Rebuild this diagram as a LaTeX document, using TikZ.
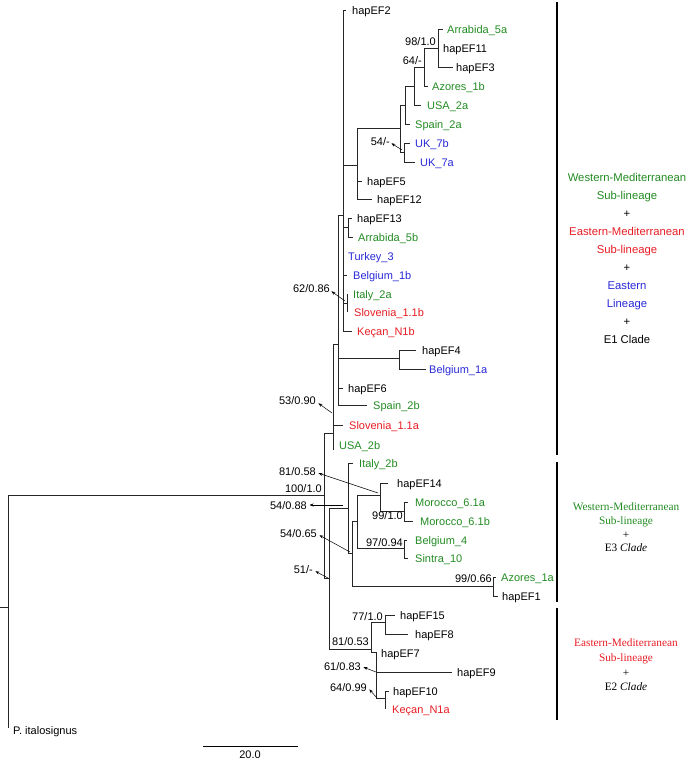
\documentclass[tikz,border=0pt]{standalone}
\usepackage{fontspec}
\setmainfont{Liberation Sans}
\newfontfamily\seriffam{Liberation Serif}
\usetikzlibrary{arrows.meta,calc}
\definecolor{tgreen}{RGB}{34,139,34}
\definecolor{tred}{RGB}{232,28,36}
\definecolor{tblue}{RGB}{40,40,215}
\newcommand\mytip[6]{\coordinate (#1) at (#2,#3); \node[lab,#6] (L#1) at (#4,#3) {#5};}
\begin{document}
\begin{tikzpicture}[x=1pt,y=-1pt,
  edge/.style={draw=black!85, line width=0.9pt},
  lab/.style={anchor=west, inner sep=0pt, font=\fontsize{11}{13}\selectfont, text height=8pt, text depth=0pt},
  bs/.style={anchor=east, inner sep=0pt, font=\fontsize{11}{13}\selectfont, text height=8pt, text depth=0pt},
  arr/.style={draw=black, line width=0.5pt, -{Stealth[length=4pt,width=3pt]}, shorten >=0.5pt},
  bar/.style={draw=black, line width=1.4pt},
  g/.style={text=tgreen}, r/.style={text=tred}, b/.style={text=tblue}, k/.style={text=black}]
\useasboundingbox (0,0) rectangle (689,761);

% tips
\mytip{hapEF2}{346}{10}{352}{hapEF2}{k}
\mytip{Arr5a}{443}{29}{447}{Arrabida\_5a}{g}
\mytip{hapEF11}{438}{48}{443}{hapEF11}{k}
\mytip{hapEF3}{453}{67}{456}{hapEF3}{k}
\mytip{Az1b}{428}{86}{432}{Azores\_1b}{g}
\mytip{USA2a}{421}{105}{427}{USA\_2a}{g}
\mytip{Spain2a}{410}{124}{415}{Spain\_2a}{g}
\mytip{UK7b}{410}{143}{415}{UK\_7b}{b}
\mytip{UK7a}{415}{162}{420}{UK\_7a}{b}
\mytip{hapEF5}{362}{181}{367}{hapEF5}{k}
\mytip{hapEF12}{372}{199}{377}{hapEF12}{k}
\mytip{hapEF13}{352}{218}{357}{hapEF13}{k}
\mytip{Arr5b}{353}{237}{358}{Arrabida\_5b}{g}
\mytip{Turkey3}{343}{256}{348}{Turkey\_3}{b}
\mytip{Belg1b}{347}{275}{353}{Belgium\_1b}{b}
\mytip{Italy2a}{347}{294}{353}{Italy\_2a}{g}
\mytip{Slov11b}{347}{312}{354}{Slovenia\_1.1b}{r}
\mytip{KecN1b}{352}{331}{357}{Keçan\_N1b}{r}
\mytip{hapEF4}{416}{350}{422}{hapEF4}{k}
\mytip{Belg1a}{426}{369}{429}{Belgium\_1a}{b}
\mytip{hapEF6}{343}{388}{348}{hapEF6}{k}
\mytip{Spain2b}{367}{405}{373}{Spain\_2b}{g}
\mytip{Slov11a}{343}{425}{349}{Slovenia\_1.1a}{r}
\coordinate (USA2b) at (333,450);
\node[lab,g] (LUSA2b) at (339,445) {USA\_2b};
\mytip{Italy2b}{353}{463}{359}{Italy\_2b}{g}
\mytip{hapEF14}{388}{483}{397}{hapEF14}{k}
\mytip{Mor61a}{408}{502}{415}{Morocco\_6.1a}{g}
\mytip{Mor61b}{413}{521}{420}{Morocco\_6.1b}{g}
\mytip{Belg4}{407}{540}{415}{Belgium\_4}{g}
\mytip{Sintra10}{408}{558}{415}{Sintra\_10}{g}
\mytip{Az1a}{496}{577}{501}{Azores\_1a}{g}
\mytip{hapEF1}{498}{596}{502}{hapEF1}{k}
\mytip{hapEF15}{395}{615}{400}{hapEF15}{k}
\mytip{hapEF8}{408}{634}{415}{hapEF8}{k}
\mytip{hapEF7}{376}{653}{381}{hapEF7}{k}
\mytip{hapEF9}{452}{672}{457}{hapEF9}{k}
\mytip{hapEF10}{389}{691}{393}{hapEF10}{k}
\mytip{KecN1a}{385}{709}{392}{Keçan\_N1a}{r}
\coordinate (Pital) at (8,728);
\node[lab] (LPital) at (13,730) {P. italosignus};

% internal nodes
\coordinate (n98) at (438,48);
\coordinate (n64) at (424,67);
\coordinate (na) at (414,86);
\coordinate (nb) at (405,105);
\coordinate (nuk) at (404,152);
\coordinate (nc) at (400,128);
\coordinate (nd) at (357,165);
\coordinate (n13) at (348,227);
\coordinate (nit) at (347,303);
\coordinate (nE) at (343,215);
\coordinate (n4) at (399,358);
\coordinate (nX) at (338,344);
\coordinate (nY) at (333,433);
\coordinate (nmor) at (404,511);
\coordinate (n14) at (380,495);
\coordinate (nbel) at (404,548);
\coordinate (nT) at (357,521);
\coordinate (naz) at (493,586);
\coordinate (nS) at (352,553);
\coordinate (nV) at (348,508);
\coordinate (n77) at (385,622);
\coordinate (n64b) at (385,698);
\coordinate (n61) at (376,652);
\coordinate (nR) at (371,649);
\coordinate (nW) at (329,578);
\coordinate (nZ) at (324,495);
\coordinate (root) at (8,607);
\coordinate (stub) at (0,607);

\foreach \p/\c in {n98/Arr5a,n98/hapEF11,n98/hapEF3,n64/n98,n64/Az1b,na/n64,na/USA2a,
  nb/na,nb/Spain2a,nuk/UK7b,nuk/UK7a,nc/nb,nc/nuk,nd/nc,nd/hapEF5,nd/hapEF12,
  n13/hapEF13,n13/Arr5b,nit/Italy2a,nit/Slov11b,
  nE/hapEF2,nE/nd,nE/n13,nE/Turkey3,nE/Belg1b,nE/nit,nE/KecN1b,
  n4/hapEF4,n4/Belg1a,nX/nE,nX/n4,nX/hapEF6,nX/Spain2b,
  nY/nX,nY/Slov11a,nY/USA2b,
  nmor/Mor61a,nmor/Mor61b,n14/hapEF14,n14/nmor,nbel/Belg4,nbel/Sintra10,
  nT/n14,nT/nbel,naz/Az1a,naz/hapEF1,nS/nT,nS/naz,nV/Italy2b,nV/nS,
  n77/hapEF15,n77/hapEF8,n64b/hapEF10,n64b/KecN1a,n61/hapEF7,n61/hapEF9,n61/n64b,
  nR/n77,nR/n61,nW/nV,nW/nR,nZ/nY,nZ/nW,root/nZ,root/Pital}
  \draw[edge] (\p) |- (\c);
\draw[edge] (stub) -- (root);

% support values
\node[bs] (b98) at (436,41) {98/1.0};
\node[bs] (b64) at (422,60) {64/-};
\node[bs] (b54a) at (390,141) {54/-};
\node[bs] (b62) at (330,288) {62/0.86};
\node[bs] (b53) at (316,400) {53/0.90};
\node[bs] (b81a) at (316,471) {81/0.58};
\node[bs] (b100) at (322,488) {100/1.0};
\node[bs] (b54b) at (307,505) {54/0.88};
\node[bs] (b54c) at (317,533) {54/0.65};
\node[bs] (b51) at (313,569) {51/-};
\node[bs] (b99a) at (403,515) {99/1.0};
\node[bs] (b97) at (403,542) {97/0.94};
\node[bs] (b99b) at (492,578) {99/0.66};
\node[bs] (b77) at (383,616) {77/1.0};
\node[bs] (b81b) at (369,641) {81/0.53};
\node[bs] (b61) at (361,666) {61/0.83};
\node[bs] (b64b) at (367,687) {64/0.99};

\coordinate (a54a) at (402,150);
\coordinate (a62) at (345,301);
\coordinate (a53) at (332,413);
\coordinate (a81a) at (378,493);
\coordinate (a54b) at (343,505);
\coordinate (a54c) at (350,552);
\coordinate (a51) at (328,578);
\coordinate (a61) at (376,672);
\coordinate (a64b) at (377,698);
\draw[arr] (a54a) -- ([xshift=1pt,yshift=-2pt]b54a.east);
\draw[arr] (a62) -- ([xshift=1pt,yshift=-3pt]b62.east);
\draw[arr] (a53) -- ([xshift=2pt,yshift=-3pt]b53.east);
\draw[arr] (a81a) -- ([xshift=2pt,yshift=-2pt]b81a.east);
\draw[arr] (a54b) -- ([xshift=2pt]b54b.east);
\draw[arr] (a54c) -- ([xshift=2pt,yshift=-2pt]b54c.east);
\draw[arr] (a51) -- ([xshift=2pt,yshift=-2pt]b51.east);
\draw[arr] (a61) -- ([xshift=2pt,yshift=-1pt]b61.east);
\draw[arr] (a64b) -- ([xshift=2pt,yshift=-2pt]b64b.east);

% clade bars
\coordinate (bar1t) at (557,2);   \coordinate (bar1b) at (557,455);
\coordinate (bar2t) at (557,462); \coordinate (bar2b) at (557,602);
\coordinate (bar3t) at (557,608); \coordinate (bar3b) at (557,720);
\draw[bar] (bar1t) -- (bar1b);
\draw[bar] (bar2t) -- (bar2b);
\draw[bar] (bar3t) -- (bar3b);

\node[align=center, inner sep=0pt, font=\fontsize{11.3}{18.1}\selectfont] (c1) at (627,258.5)
  {\textcolor{tgreen}{Western-Mediterranean}\\ \textcolor{tgreen}{Sub-lineage}\\ +\\
   \textcolor{tred}{Eastern-Mediterranean}\\ \textcolor{tred}{Sub-lineage}\\ +\\
   \textcolor{tblue}{Eastern}\\ \textcolor{tblue}{Lineage}\\ +\\ E1 Clade};
\node[align=center, inner sep=0pt, font=\seriffam\fontsize{11.3}{13.7}\selectfont] (c2) at (626,527.5)
  {\textcolor{tgreen}{Western-Mediterranean}\\ \textcolor{tgreen}{Sub-lineage}\\ +\\ E3 \textit{Clade}};
\node[align=center, inner sep=0pt, font=\seriffam\fontsize{11.3}{14.7}\selectfont] (c3) at (626,665)
  {\textcolor{tred}{Eastern-Mediterranean}\\ \textcolor{tred}{Sub-lineage}\\ +\\ E2 \textit{Clade}};

% scale bar
\coordinate (sb1) at (203,746);
\coordinate (sb2) at (298,746);
\draw[line width=0.9pt] (sb1) -- (sb2);
\node[inner sep=0pt, font=\fontsize{11}{13}\selectfont] (sbl) at (250,754.5) {20.0};
\end{tikzpicture}
\end{document}
